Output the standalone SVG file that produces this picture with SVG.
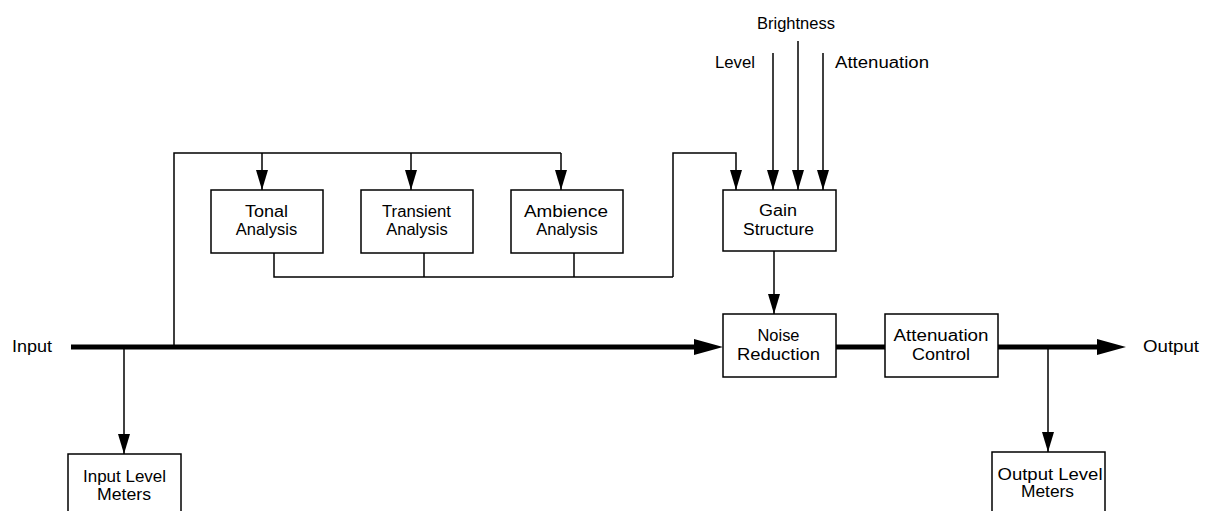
<svg xmlns="http://www.w3.org/2000/svg" width="1208" height="511" viewBox="0 0 1208 511">
<style>
text{font-family:"Liberation Sans",Arial,sans-serif;font-size:16px;fill:#000;text-anchor:middle}
.big{font-size:16.5px}
.box{fill:#fff;stroke:#000;stroke-width:1.5}
.thin{fill:none;stroke:#000;stroke-width:1.5}
.thick{fill:none;stroke:#000;stroke-width:5}
</style>
<defs>
<marker id="ah" markerUnits="userSpaceOnUse" markerWidth="20" markerHeight="12" refX="20" refY="6" viewBox="0 0 20 12" orient="auto">
<path d="M0,0 L20,6 L0,12 Z" fill="#000"/>
</marker>
</defs>
<rect width="1208" height="511" fill="#fff"/>
<g id="connectors">
<polyline class="thin" points="174,347 174,153 561,153"/>
<line class="thin" x1="262" y1="153" x2="262" y2="190" marker-end="url(#ah)"/>
<line class="thin" x1="411" y1="153" x2="411" y2="190" marker-end="url(#ah)"/>
<line class="thin" x1="561" y1="153" x2="561" y2="190" marker-end="url(#ah)"/>
<polyline class="thin" points="274,253 274,277 673,277"/>
<line class="thin" x1="424" y1="253" x2="424" y2="277"/>
<line class="thin" x1="574" y1="253" x2="574" y2="277"/>
<polyline class="thin" points="673,277 673,153 736,153 736,190" marker-end="url(#ah)"/>
<line class="thin" x1="773" y1="53" x2="773" y2="190" marker-end="url(#ah)"/>
<line class="thin" x1="798" y1="41" x2="798" y2="190" marker-end="url(#ah)"/>
<line class="thin" x1="823" y1="53" x2="823" y2="190" marker-end="url(#ah)"/>
<line class="thin" x1="774" y1="251" x2="774" y2="314" marker-end="url(#ah)"/>
<line class="thick" x1="71" y1="347" x2="696" y2="347"/>
<path d="M694,339 L723,347 L694,355 Z" fill="#000"/>
<line class="thick" x1="836" y1="347" x2="885" y2="347"/>
<line class="thick" x1="998" y1="347" x2="1099" y2="347"/>
<path d="M1097,339 L1126,347 L1097,355 Z" fill="#000"/>
<line class="thin" x1="124" y1="347" x2="124" y2="454" marker-end="url(#ah)"/>
<line class="thin" x1="1048" y1="347" x2="1048" y2="452" marker-end="url(#ah)"/>
</g>
<g id="label-input"><text x="32" y="352" textLength="40" lengthAdjust="spacingAndGlyphs">Input</text></g>
<g id="label-output"><text x="1171" y="352" textLength="56" lengthAdjust="spacingAndGlyphs">Output</text></g>
<g id="label-brightness"><text class="big" x="796" y="29">Brightness</text></g>
<g id="label-level"><text x="735" y="68" textLength="40" lengthAdjust="spacingAndGlyphs">Level</text></g>
<g id="label-attenuation"><text x="882" y="68" textLength="94" lengthAdjust="spacingAndGlyphs">Attenuation</text></g>
<g id="tonal"><rect class="box" x="211" y="190" width="112" height="63"/><text x="266.5" y="217" textLength="43" lengthAdjust="spacingAndGlyphs">Tonal</text><text class="big" x="266.5" y="235">Analysis</text></g>
<g id="transient"><rect class="box" x="361" y="190" width="112" height="63"/><text x="416.5" y="217" textLength="69" lengthAdjust="spacingAndGlyphs">Transient</text><text class="big" x="417" y="235">Analysis</text></g>
<g id="ambience"><rect class="box" x="511" y="190" width="112" height="63"/><text x="566" y="217" textLength="84" lengthAdjust="spacingAndGlyphs">Ambience</text><text class="big" x="567" y="235">Analysis</text></g>
<g id="gain"><rect class="box" x="723" y="190" width="113" height="61"/><text x="778" y="216" textLength="38" lengthAdjust="spacingAndGlyphs">Gain</text><text x="778.5" y="235" textLength="71" lengthAdjust="spacingAndGlyphs">Structure</text></g>
<g id="noise"><rect class="box" x="723" y="314" width="113" height="63"/><text x="778.5" y="341" textLength="42" lengthAdjust="spacingAndGlyphs">Noise</text><text x="778.5" y="360" textLength="83" lengthAdjust="spacingAndGlyphs">Reduction</text></g>
<g id="attcontrol"><rect class="box" x="885" y="314" width="113" height="63"/><text x="941" y="341" textLength="95" lengthAdjust="spacingAndGlyphs">Attenuation</text><text x="941" y="360" textLength="58" lengthAdjust="spacingAndGlyphs">Control</text></g>
<g id="inmeters"><rect class="box" x="68" y="454" width="113" height="70"/><text x="124.5" y="482" textLength="83" lengthAdjust="spacingAndGlyphs">Input Level</text><text x="124" y="500" textLength="54" lengthAdjust="spacingAndGlyphs">Meters</text></g>
<g id="outmeters"><rect class="box" x="992" y="452" width="113" height="72"/><text x="1050" y="480" textLength="105" lengthAdjust="spacingAndGlyphs">Output Level</text><text x="1047.5" y="497" textLength="53" lengthAdjust="spacingAndGlyphs">Meters</text></g>
</svg>
